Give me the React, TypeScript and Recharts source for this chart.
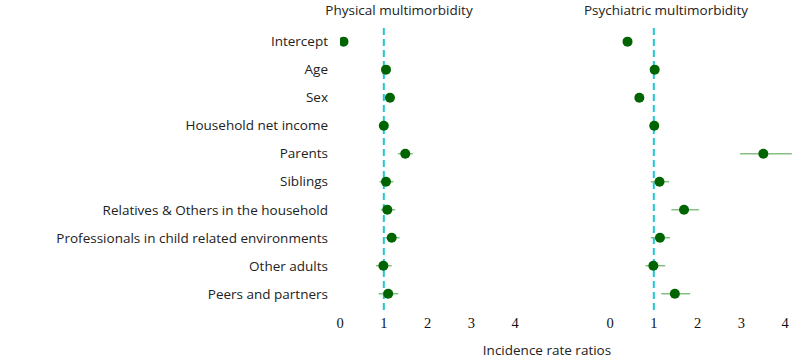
import React from 'react'
import {
  ScatterChart,
  Scatter,
  XAxis,
  YAxis,
  ErrorBar,
  ReferenceLine
} from 'recharts'

const rows = [
  'Intercept',
  'Age',
  'Sex',
  'Household net income',
  'Parents',
  'Siblings',
  'Relatives & Others in the household',
  'Professionals in child related environments',
  'Other adults',
  'Peers and partners'
]

const physEst = [0.08, 1.05, 1.14, 1.0, 1.49, 1.05, 1.08, 1.18, 0.99, 1.1]
const physLow = [0.06, 1.02, 1.1, 0.97, 1.32, 0.9, 0.93, 1.03, 0.82, 0.88]
const physHigh = [0.1, 1.08, 1.18, 1.03, 1.66, 1.22, 1.26, 1.36, 1.18, 1.33]

const psyEst = [0.4, 1.02, 0.67, 1.01, 3.5, 1.13, 1.69, 1.14, 0.99, 1.48]
const psyLow = [0.35, 0.97, 0.62, 0.97, 2.97, 0.93, 1.4, 0.93, 0.81, 1.17]
const psyHigh = [0.47, 1.07, 0.72, 1.05, 4.15, 1.35, 2.03, 1.37, 1.26, 1.83]

const xTicks = [0, 1, 2, 3, 4]

const build = (est: number[], low: number[], high: number[]) =>
  rows.map((name, i) => ({
    idx: i,
    name,
    est: est[i],
    err: [est[i] - low[i], high[i] - est[i]]
  }))

const physData = build(physEst, physLow, physHigh)
const psyData = build(psyEst, psyLow, psyHigh)

const sans = '"Open Sans", "Noto Sans", sans-serif'
const serif = '"Liberation Serif", "Times New Roman", serif'

const dot = (p: any) => <circle cx={p.cx} cy={p.cy} r={5} fill="#006400" />

// serif numbers under each panel
const XTick = (p: any) => (
  <text x={p.x} y={p.y} dy="0.71em" textAnchor="middle" fill="#111"
    style={{ fontFamily: serif, fontSize: 14.5 }}>
    {p.payload.value}
  </text>
)

const YTick = (p: any) => (
  <text x={p.x} y={p.y} dy="0.355em" textAnchor="end" fill="#222"
    style={{ fontFamily: sans, fontSize: 13.5 }}>
    {rows[p.payload.value]}
  </text>
)

function Panel (props: { data: any[], showLabels: boolean, width: number, left: number }) {
  const { data, showLabels, width, left } = props
  return (
    <ScatterChart
      width={width}
      height={358}
      margin={{ top: 24, right: showLabels ? 6 : 0, left, bottom: 18 }}
    >
      <XAxis
        type="number"
        dataKey="est"
        domain={[0, 4.2]}
        ticks={xTicks}
        allowDataOverflow
        axisLine={false}
        tickLine={false}
        tickSize={0}
        tickMargin={8}
        height={30}
        tick={XTick}
      />
      <YAxis
        type="number"
        dataKey="idx"
        domain={[-0.63, 9.58]}
        reversed
        ticks={rows.map((_, i) => i)}
        hide={!showLabels}
        width={showLabels ? 340 : 0}
        axisLine={false}
        tickLine={false}
        tickSize={0}
        tickMargin={12}
        interval={0}
        tick={YTick}
      />
      <ReferenceLine x={1} stroke="#1fc8d2" strokeWidth={2} strokeDasharray="7 4" />
      <Scatter data={data} shape={dot} isAnimationActive={false}>
        <ErrorBar dataKey="err" direction="x" width={0} stroke="#86bf86" strokeWidth={1.5} />
      </Scatter>
    </ScatterChart>
  )
}

const titleStyle: React.CSSProperties = {
  position: 'absolute',
  transform: 'translateX(-50%)',
  fontSize: 13.5,
  lineHeight: '14px',
  whiteSpace: 'nowrap',
  color: '#222'
}

export default function App () {
  return (
    <div style={{ position: 'absolute', left: 0, top: 0, width: 794, height: 358, background: '#fff', fontFamily: sans }}>
      <div style={{ display: 'flex' }}>
        <Panel data={physData} showLabels width={530} left={0} />
        <Panel data={psyData} showLabels={false} width={264} left={80} />
      </div>
      <div style={{ ...titleStyle, left: 399, top: 3 }}>Physical multimorbidity</div>
      <div style={{ ...titleStyle, left: 666, top: 3 }}>Psychiatric multimorbidity</div>
      <div style={{ ...titleStyle, left: 547, top: 343 }}>Incidence rate ratios</div>
    </div>
  )
}
